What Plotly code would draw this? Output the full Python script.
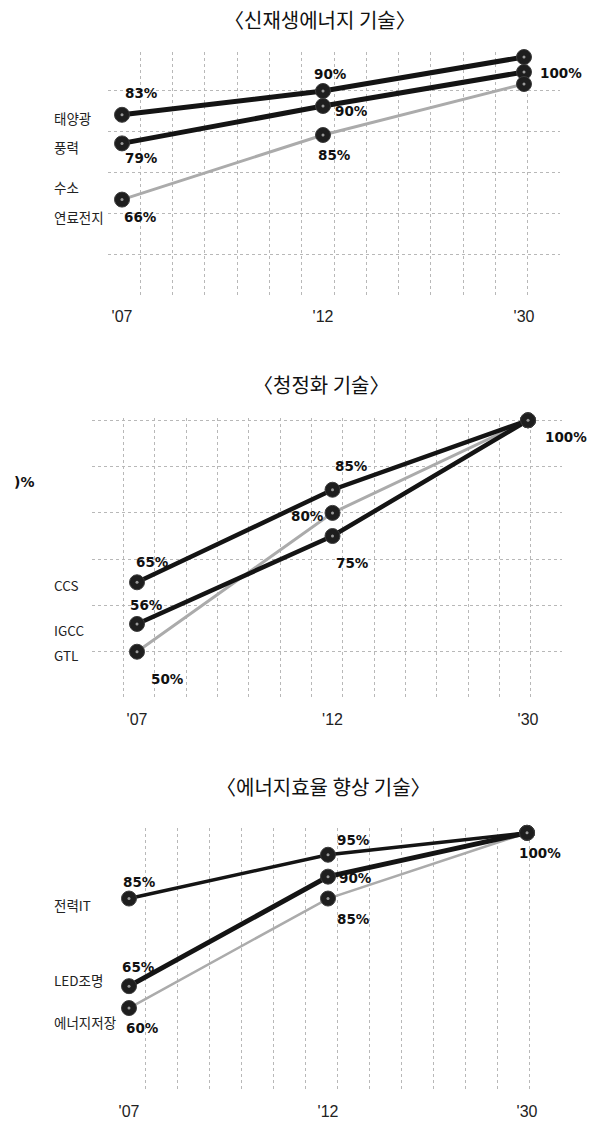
import plotly.graph_objects as go

# ---- data -------------------------------------------------------------
years = ["'07", "'12", "'30"]

# 신재생에너지 기술
renew_title = "〈신재생에너지 기술〉"
solar = [83, 90, 100]        # 태양광
wind = [79, 90, 100]         # 풍력
fuelcell = [66, 85, 100]     # 수소 연료전지

# 청정화 기술
clean_title = "〈청정화 기술〉"
ccs = [65, 85, 100]
igcc = [56, 75, 100]
gtl = [50, 80, 100]

# 에너지효율 향상 기술
eff_title = "〈에너지효율 향상 기술〉"
power_it = [85, 95, 100]     # 전력IT
led = [65, 90, 100]          # LED조명
storage = [60, 85, 100]      # 에너지저장

# ---- page geometry ----------------------------------------------------
W, H = 594, 1126


def px(p):
    return p / W


def py(p):
    return 1 - p / H


BLACK = "#141414"
GREY = "#ababab"
GRID = "#b8b8b8"
LABEL_FONT = dict(family="DejaVu Sans", size=13.5, color="#111111", weight="bold")
NAME_FONT = dict(family="Noto Sans CJK KR", size=13.5, color="#222222")
TICK_FONT = dict(family="Liberation Sans Narrow, Liberation Sans", size=16, color="#222222")
TITLE_FONT = dict(family="Noto Sans CJK KR", size=20, color="#111111")

xs = list(range(len(years)))

fig = go.Figure()


def add_series(values, xaxis, yaxis, color, width):
    fig.add_trace(go.Scatter(
        x=xs, y=values, xaxis=xaxis, yaxis=yaxis, mode="lines+markers",
        line=dict(color=color, width=width),
        marker=dict(size=15, color="#1e1e1e", line=dict(color="#3c3c3c", width=1)),
        cliponaxis=False, hoverinfo="skip", showlegend=False,
    ))
    # small light glint in the centre of each ball
    fig.add_trace(go.Scatter(
        x=xs, y=values, xaxis=xaxis, yaxis=yaxis, mode="markers",
        marker=dict(size=3, color="#9a9a9a", symbol="circle"),
        cliponaxis=False, hoverinfo="skip", showlegend=False,
    ))


def add_label(values, i, xaxis, yaxis, dx, dy):
    fig.add_annotation(
        x=xs[i], y=values[i], xref=xaxis, yref=yaxis,
        text=f"{values[i]}%", showarrow=False, font=LABEL_FONT,
        xshift=dx, yshift=-dy,
    )


# ---- panel 1 : three overlaid y-axes, staggered so lines don't merge --
p1_top, p1_bot, p1_scale = 52, 295, 3.4     # px, px, px per %
p1_span = (p1_bot - p1_top) / p1_scale


def p1_range(px_at_100):
    top = 100 + (px_at_100 - p1_top) / p1_scale
    return [top - p1_span, top]


add_series(fuelcell, "x5", "y3", GREY, 3)
add_series(wind, "x", "y", BLACK, 5)
add_series(solar, "x4", "y2", BLACK, 5)

# ---- panel 2 --------------------------------------------------------
add_series(gtl, "x2", "y4", GREY, 3)
add_series(igcc, "x2", "y4", BLACK, 4.5)
add_series(ccs, "x2", "y4", BLACK, 4.5)

# ---- panel 3 --------------------------------------------------------
add_series(storage, "x3", "y5", GREY, 2.5)
add_series(led, "x3", "y5", BLACK, 5)
add_series(power_it, "x3", "y5", BLACK, 3.5)

# value labels
add_label(solar, 0, "x4", "y2", 19, -22)
add_label(solar, 1, "x4", "y2", 7, -17)
add_label(wind, 0, "x", "y", 19, 15)
add_label(wind, 1, "x", "y", 28, 5)
add_label(wind, 2, "x", "y", 37, 1)
add_label(fuelcell, 0, "x5", "y3", 18, 17)
add_label(fuelcell, 1, "x5", "y3", 11, 20)

add_label(ccs, 0, "x2", "y4", 15, -20)
add_label(igcc, 0, "x2", "y4", 9, -19)
add_label(gtl, 0, "x2", "y4", 30, 27)
add_label(ccs, 1, "x2", "y4", 19, -24)
add_label(gtl, 1, "x2", "y4", -25, 3)
add_label(igcc, 1, "x2", "y4", 20, 27)
add_label(ccs, 2, "x2", "y4", 38, 17)

add_label(power_it, 0, "x3", "y5", 10, -17)
add_label(led, 0, "x3", "y5", 9, -19)
add_label(storage, 0, "x3", "y5", 13, 20)
add_label(power_it, 1, "x3", "y5", 25, -15)
add_label(led, 1, "x3", "y5", 27, 1)
add_label(storage, 1, "x3", "y5", 25, 20)
add_label(power_it, 2, "x3", "y5", 13, 20)


# ---- axes -----------------------------------------------------------
def x_axis(left, right, first, last, n_grid, anchor):
    unit = (last[1] - first[1]) / (last[0] - first[0])
    r0 = first[0] - (first[1] - left) / unit
    r1 = first[0] + (right - first[1]) / unit
    step = (r1 - r0) / n_grid
    return dict(
        domain=[px(left), px(right)], range=[r0, r1], anchor=anchor,
        tickvals=xs, ticktext=years, tickfont=TICK_FONT,
        showgrid=False, zeroline=False, showline=False, ticks="",
        ticklabelstandoff=10, fixedrange=True,
        minor=dict(tick0=r0 + step * 1e-3, dtick=step, showgrid=True,
                   gridcolor=GRID, griddash="dot", gridwidth=1, ticks=""),
    )


def y_axis(top, bot, rng, anchor, grid_step=None, grid_from=None):
    ax = dict(domain=[py(bot), py(top)], range=rng, anchor=anchor,
              showticklabels=False, zeroline=False, showline=False,
              ticks="", fixedrange=True, showgrid=False)
    if grid_step:
        ax.update(tick0=grid_from, dtick=grid_step, showgrid=True,
                  gridcolor=GRID, griddash="dot", gridwidth=1)
    return ax


p1_x = x_axis(108, 560, (0, 122), (2, 524), 14, "y")
wind_rng = p1_range(72)
fig.update_layout(
    xaxis=p1_x,
    yaxis=y_axis(p1_top, p1_bot, wind_rng, "x",
                 grid_step=41 / p1_scale, grid_from=wind_rng[0] + 1e-3),
    xaxis4=dict(range=p1_x["range"], anchor="y2", overlaying="x", visible=False),
    yaxis2=dict(range=p1_range(57), anchor="x4", overlaying="y", visible=False),
    xaxis5=dict(range=p1_x["range"], anchor="y3", overlaying="x", visible=False),
    yaxis3=dict(range=p1_range(84), anchor="x5", overlaying="y", visible=False),
    xaxis2=x_axis(92, 562, (0, 137), (2, 528), 15, "y4"),
    yaxis4=y_axis(418, 698, [40, 100.5], "x2", grid_step=10, grid_from=40.001),
    xaxis3=x_axis(113, 562, (0, 129), (2, 527), 14, "y5"),
    yaxis5=y_axis(828, 1090, [41.3, 101.1], "x3"),
)

# ---- titles and series names -------------------------------------------
for text, cx, cy in [(renew_title, 320, 20), (clean_title, 321, 384), (eff_title, 323, 786)]:
    fig.add_annotation(x=px(cx), y=py(cy), xref="paper", yref="paper", text=text,
                       showarrow=False, font=TITLE_FONT, xanchor="center", yanchor="middle")

names = [
    ("태양광", 118), ("풍력", 147), ("수소", 187), ("연료전지", 217),
    ("CCS", 585), ("IGCC", 630), ("GTL", 655),
    ("전력IT", 905), ("LED조명", 980), ("에너지저장", 1022),
]
for text, cy in names:
    fig.add_annotation(x=px(52), y=py(cy), xref="paper", yref="paper", text=text,
                       showarrow=False, font=NAME_FONT, xanchor="left", yanchor="middle")

# trimmed edge of a neighbouring chart's label
fig.add_annotation(x=px(12), y=py(482), xref="paper", yref="paper", text=")%",
                   showarrow=False, font=dict(LABEL_FONT, size=14), xanchor="left",
                   yanchor="middle")

fig.update_layout(
    width=W, height=H, margin=dict(l=0, r=0, t=0, b=0),
    paper_bgcolor="white", plot_bgcolor="white",
)

fig.write_html("out.html")
